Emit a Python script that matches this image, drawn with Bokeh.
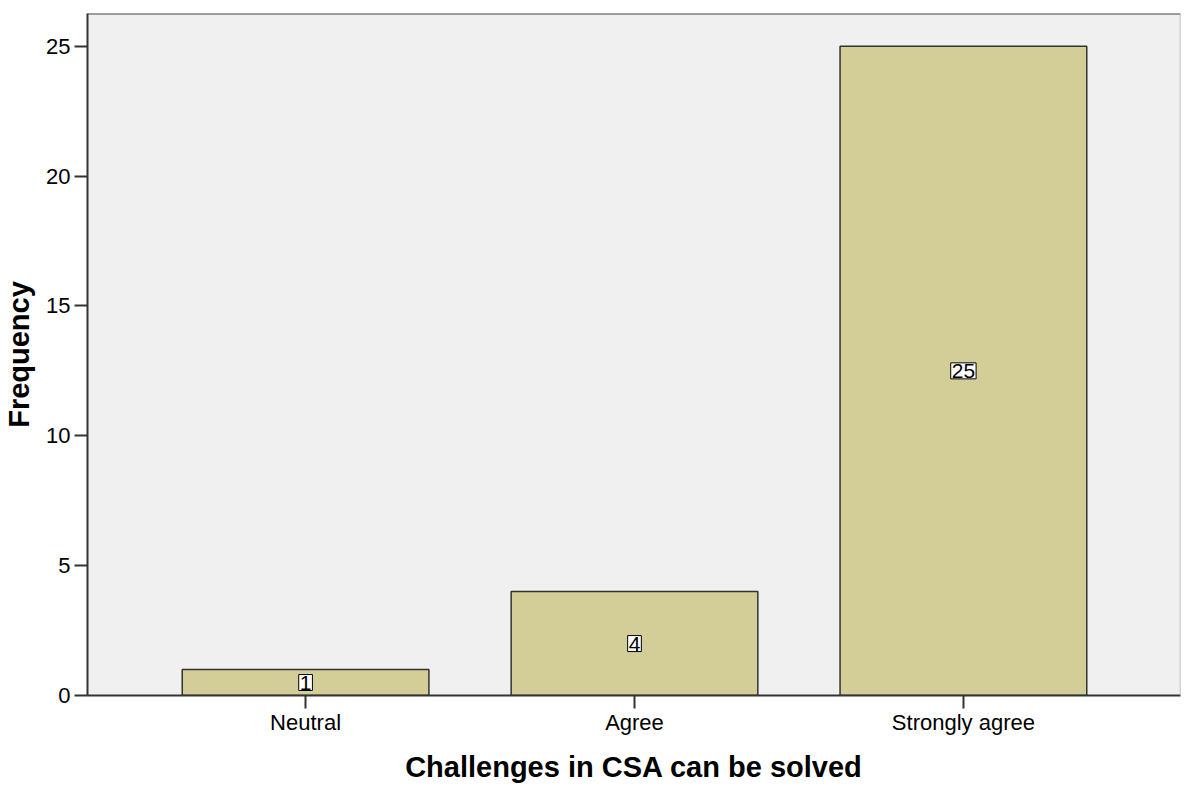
from bokeh.plotting import figure
from bokeh.models import ColumnDataSource, Range1d, FixedTicker, Span
from bokeh.core.properties import value
from bokeh.embed import file_html
from bokeh.resources import INLINE

categories = ["Neutral", "Agree", "Strongly agree"]
frequencies = [1, 4, 25]
y_ticks = [0, 5, 10, 15, 20, 25]
x_title = "Challenges in CSA can be solved"
y_title = "Frequency"

xs = list(range(len(categories)))
source = ColumnDataSource(dict(
    x=xs,
    top=frequencies,
    mid=[f / 2 for f in frequencies],
    label=[str(f) for f in frequencies],
))

FONT = "Liberation Sans"
X_START, X_END = -0.663, 2.66
Y_START, Y_END = 0, 26.26

p = figure(width=1181, height=785, output_backend="svg", toolbar_location=None,
           x_range=Range1d(X_START, X_END), y_range=Range1d(Y_START, Y_END),
           min_border_left=78, min_border_right=1, min_border_top=13, min_border_bottom=90)

p.background_fill_color = "#F0F0F0"
p.border_fill_color = "white"
p.outline_line_color = None
p.xgrid.visible = False
p.ygrid.visible = False

p.vbar(x="x", top="top", bottom=0, width=0.75, source=source,
       fill_color="#D3CE97", line_color="#333333", line_width=1.5)

p.text(x="x", y="mid", text="label", source=source,
       text_align="center", text_baseline="middle",
       text_font=value(FONT), text_font_size="21px", text_color="black",
       background_fill_color="white", border_line_color="black", border_line_width=1,
       padding=1)

p.add_layout(Span(location=Y_END, dimension="width", line_color="#444444", line_width=2))
p.add_layout(Span(location=X_END, dimension="height", line_color="#B0B0B0", line_width=1.5))

# x axis
p.xaxis.ticker = FixedTicker(ticks=xs)
p.xaxis.major_label_overrides = {i: c for i, c in zip(xs, categories)}
p.xaxis.axis_label = x_title
# y axis
p.yaxis.ticker = FixedTicker(ticks=y_ticks)
p.yaxis.axis_label = y_title

for ax in (p.xaxis, p.yaxis):
    ax.axis_line_color = "#333333"
    ax.axis_line_width = 2
    ax.major_tick_line_color = "#333333"
    ax.major_tick_line_width = 2
    ax.major_tick_out = 13
    ax.major_tick_in = 0
    ax.minor_tick_out = 0
    ax.minor_tick_in = 0
    ax.major_label_text_font = FONT
    ax.major_label_text_font_size = "22px"
    ax.major_label_text_color = "black"
    ax.major_label_text_line_height = 1.0
    ax.axis_label_text_font = FONT
    ax.axis_label_text_font_size = "29px"
    ax.axis_label_text_font_style = "bold"
    ax.axis_label_text_color = "black"
    ax.axis_label_text_line_height = 1.0

p.xaxis.major_label_standoff = 1
p.xaxis.axis_label_standoff = 13
p.yaxis.major_label_standoff = 4
p.yaxis.axis_label_standoff = 8

open("out.html", "w").write(file_html(p, INLINE))
